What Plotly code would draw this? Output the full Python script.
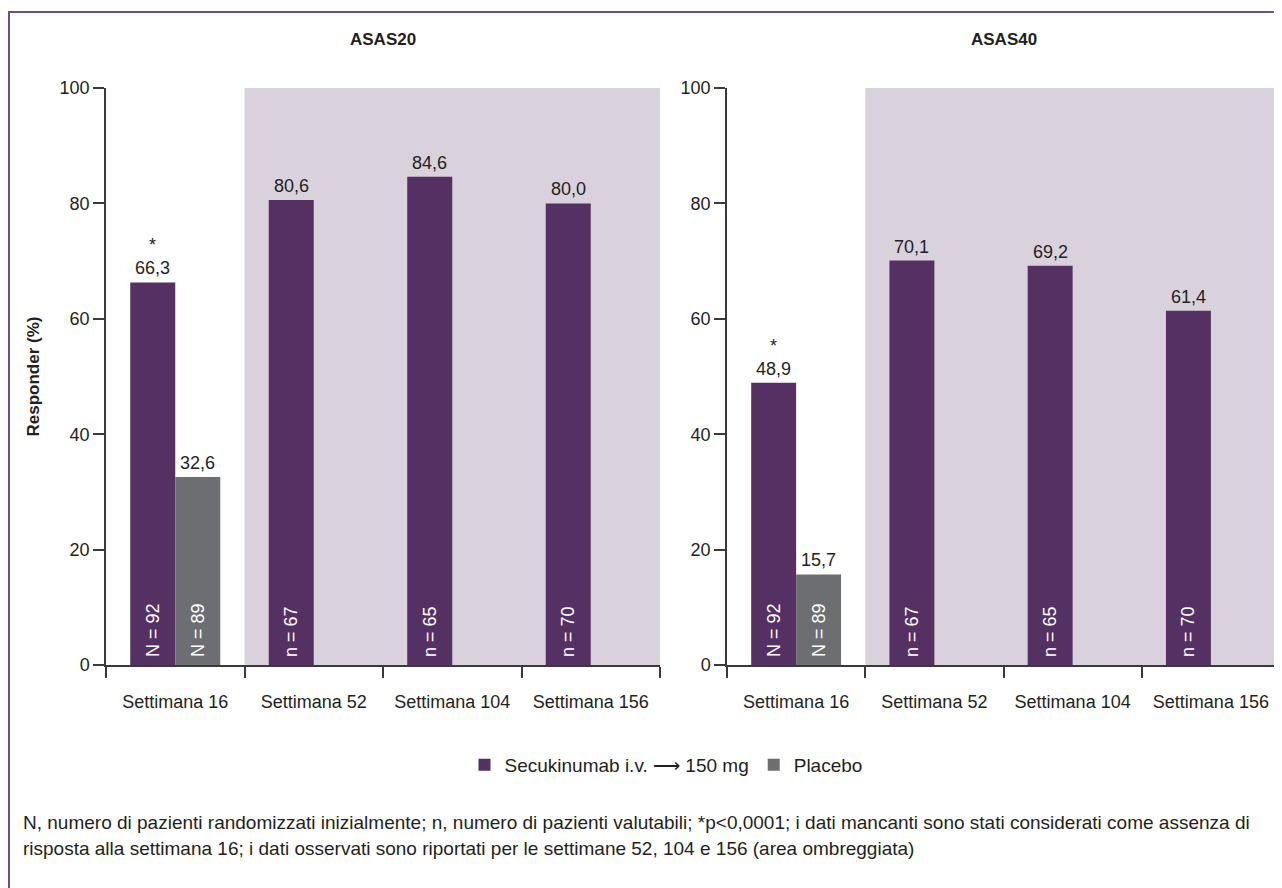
import plotly.graph_objects as go

# ---- data ----
weeks = ["Settimana 16", "Settimana 52", "Settimana 104", "Settimana 156"]
asas20_secukinumab = [66.3, 80.6, 84.6, 80.0]
asas20_placebo = [32.6, None, None, None]
asas40_secukinumab = [48.9, 70.1, 69.2, 61.4]
asas40_placebo = [15.7, None, None, None]
n_secukinumab = ["N = 92", "n = 67", "n = 65", "n = 70"]
n_placebo = ["N = 89", "", "", ""]
significant = [True, False, False, False]
panel_titles = ["ASAS20", "ASAS40"]
y_ticks = [0, 20, 40, 60, 80, 100]
footnote_lines = [
    "N, numero di pazienti randomizzati inizialmente; n, numero di pazienti valutabili; "
    "*p&lt;0,0001; i dati mancanti sono stati considerati come assenza di",
    "risposta alla settimana 16; i dati osservati sono riportati per le settimane 52, 104 e 156 "
    "(area ombreggiata)",
]

PURPLE = "#553063"
GRAY = "#6d6e71"
SHADE = "#d9d2dc"
AXIS = "#3a3a3a"
TEXT = "#231f20"
FONT = "Liberation Sans, Arial, sans-serif"

W, H = 1282, 888
OFF = 8  # page body margin

def px(x):
    return (x - OFF) / W

def py(y):
    return (H - (y - OFF)) / H

fig = go.Figure()

panels = [
    (asas20_secukinumab, asas20_placebo, "x", "y"),
    (asas40_secukinumab, asas40_placebo, "x2", "y2"),
]
for i, (secu, plac, xa, ya) in enumerate(panels):
    fig.add_trace(go.Bar(
        x=weeks, y=secu, name="Secukinumab i.v. \u27f6 150 mg",
        marker=dict(color=PURPLE, line=dict(width=0)),
        text=["\u00a0" + t for t in n_secukinumab], textposition="inside",
        insidetextanchor="start", textangle=-90,
        insidetextfont=dict(color="white", size=18, family=FONT),
        xaxis=xa, yaxis=ya, showlegend=(i == 0), legendgroup="secu",
        hoverinfo="skip"))
    fig.add_trace(go.Bar(
        x=weeks, y=plac, name="Placebo",
        marker=dict(color=GRAY, line=dict(width=0)),
        text=["\u00a0" + t if t else "" for t in n_placebo], textposition="inside",
        insidetextanchor="start", textangle=-90,
        insidetextfont=dict(color="white", size=18, family=FONT),
        xaxis=xa, yaxis=ya, showlegend=(i == 0), legendgroup="plac",
        hoverinfo="skip"))

    # value labels
    off = 0.1625
    for j, v in enumerate(secu):
        if v is None:
            continue
        t = f"{v:.1f}".replace(".", ",")
        if significant[j]:
            t = "*<br>" + t
        fig.add_annotation(x=j - off, y=v, xref=xa, yref=ya, text=t,
                           showarrow=False, yanchor="bottom", yshift=2,
                           font=dict(size=18, color=TEXT, family=FONT))
    for j, v in enumerate(plac):
        if v is None:
            continue
        t = f"{v:.1f}".replace(".", ",")
        fig.add_annotation(x=j + off, y=v, xref=xa, yref=ya, text=t,
                           showarrow=False, yanchor="bottom", yshift=2,
                           font=dict(size=18, color=TEXT, family=FONT))

    # shaded area (observed data weeks)
    fig.add_shape(type="rect", xref=xa, yref=ya, x0=0.5, x1=3.5, y0=0, y1=100,
                  fillcolor=SHADE, line=dict(width=0), layer="below")

xdom = [[px(106), px(660)], [px(727), px(1280)]]
ydom = [py(665), py(88)]

axis_common_x = dict(
    type="category", range=[-0.5, 3.5], showline=True, linecolor=AXIS,
    linewidth=1.5, ticks="outside", tickson="boundaries", ticklen=11,
    tickcolor=AXIS, tickwidth=1.5, showgrid=False, zeroline=False,
    tickfont=dict(size=18, color=TEXT, family=FONT), ticklabelstandoff=20,
    automargin=False, fixedrange=True)
axis_common_y = dict(
    range=[0, 100], tickvals=y_ticks, showline=True, linecolor=AXIS,
    linewidth=1.5, ticks="outside", ticklen=11, tickcolor=AXIS, tickwidth=1.5,
    showgrid=False, zeroline=False,
    tickfont=dict(size=18, color=TEXT, family=FONT), ticklabelstandoff=0,
    automargin=False, fixedrange=True)

fig.update_layout(
    width=W, height=H,
    margin=dict(l=0, r=0, t=0, b=0),
    paper_bgcolor="white", plot_bgcolor="rgba(0,0,0,0)",
    barmode="group", bargap=0.35, bargroupgap=0,
    font=dict(family=FONT, color=TEXT, size=18),
    xaxis=dict(domain=xdom[0], anchor="y", **axis_common_x),
    yaxis=dict(domain=ydom, anchor="x", **axis_common_y),
    xaxis2=dict(domain=xdom[1], anchor="y2", **axis_common_x),
    yaxis2=dict(domain=ydom, anchor="x2", **axis_common_y),
    legend=dict(orientation="h", x=px(666), xanchor="center", y=py(765),
                yanchor="middle", font=dict(size=19, color=TEXT, family=FONT),
                bgcolor="rgba(0,0,0,0)", itemclick=False, itemdoubleclick=False),
    showlegend=True,
)

# panel titles
for k, title in enumerate(panel_titles):
    fig.add_annotation(x=(xdom[k][0] + xdom[k][1]) / 2, y=py(40), xref="paper",
                       yref="paper", text=f"<b>{title}</b>", showarrow=False,
                       xanchor="center", yanchor="middle",
                       font=dict(size=17, color=TEXT, family=FONT))

# y-axis title
fig.add_annotation(x=px(33), y=(ydom[0] + ydom[1]) / 2, xref="paper", yref="paper",
                   text="<b>Responder (%)</b>", textangle=-90, showarrow=False,
                   xanchor="center", yanchor="middle",
                   font=dict(size=17, color=TEXT, family=FONT))

# footnote
for line, yy in zip(footnote_lines, [822, 848]):
    fig.add_annotation(x=px(21), y=py(yy), xref="paper", yref="paper", text=line,
                       showarrow=False, xanchor="left", yanchor="middle", align="left",
                       font=dict(size=19, color=TEXT, family=FONT))

# outer frame
fig.add_shape(type="rect", xref="paper", yref="paper", x0=px(9), x1=1.05,
              y0=-0.05, y1=py(12), line=dict(color="#6e4f80", width=2),
              fillcolor="rgba(0,0,0,0)", layer="above")

fig.write_html("out.html")
